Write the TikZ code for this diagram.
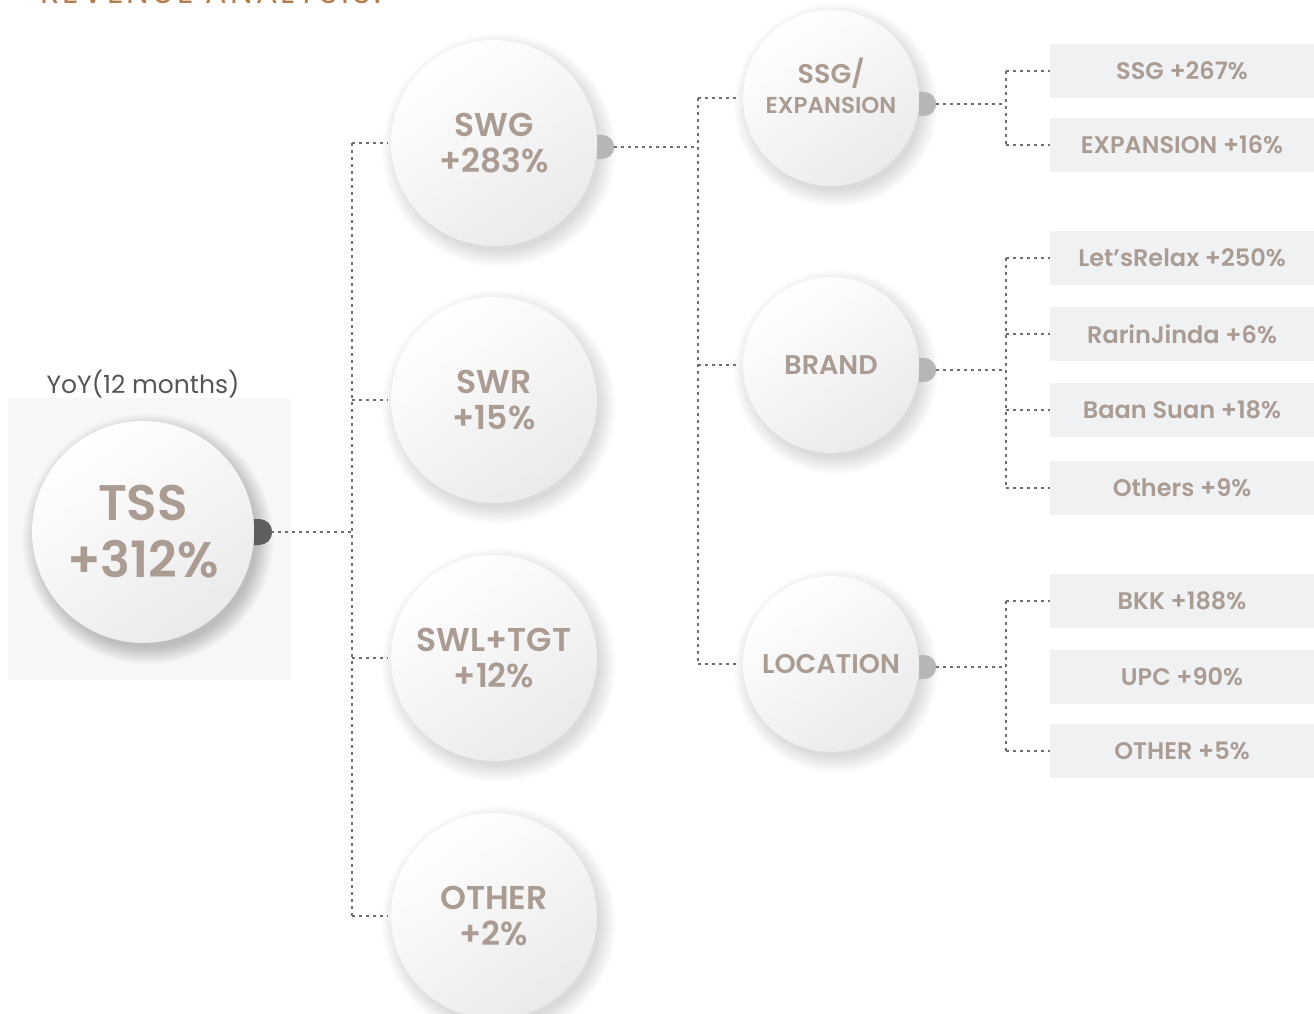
\documentclass[tikz,border=0pt]{standalone}
\usepackage{fontspec}
\setmainfont{Poppins}[BoldFont={Poppins SemiBold}]
\usetikzlibrary{backgrounds}
\definecolor{taupe}{HTML}{AA9C93}
\definecolor{boxgray}{HTML}{F0F1F3}
\definecolor{dotgray}{HTML}{6E6E72}
\definecolor{knobdark}{HTML}{5E5E60}
\definecolor{knoblight}{HTML}{B6B6B9}
\definecolor{titleorange}{HTML}{B27C4C}
\definecolor{yoygray}{HTML}{555555}
\definecolor{discgray}{HTML}{EAEAEC}
\definecolor{tssbg}{HTML}{F7F7F7}
\tikzset{
  disc/.style={circle, inner sep=0pt, text=taupe, align=center,
    top color=white, bottom color=discgray, shading angle=35},
  bigdisc/.style={disc, minimum size=222pt, font=\bfseries\fontsize{50}{57}\selectfont},
  middisc/.style={disc, minimum size=206pt, font=\bfseries\fontsize{33}{36}\selectfont},
  smalldisc/.style={disc, minimum size=176pt, font=\bfseries\fontsize{27}{30}\selectfont},
  valbox/.style={rectangle, fill=boxgray, minimum width=264pt, minimum height=54pt,
    inner sep=0pt, text=taupe, font=\bfseries\fontsize{24}{28}\selectfont},
  dotline/.style={draw=dotgray, line width=2pt, line cap=butt, dash pattern=on 3pt off 4pt}
}
% knob: node, yshift, colour, name of its tip, radius
\newcommand\knob[5]{%
  \fill[#3] ([yshift=#2]#1.east) ++(0,-#5) -- ++(5,0) arc[start angle=-90, end angle=90, radius=#5] -- ++(-5,0) -- cycle;
  \coordinate (#4) at ([xshift=17pt, yshift=#2]#1.east)}
\begin{document}
\begin{tikzpicture}[x=1pt, y=-1pt, line join=round]
  \useasboundingbox (0,0) rectangle (1314,1014);
  % title, cut by the page edge
  \node[anchor=base west, text=titleorange, inner sep=0pt,
    font=\fontsize{32}{32}\selectfont\addfontfeature{LetterSpace=10}] (title) at (40,4) {REVENUE ANALYSIS:};

  % circles
  \node[text=yoygray, font=\fontsize{25}{30}\selectfont] (yoy) at (143,384) {YoY(12 months)};
  \node[bigdisc] (tss) at (143,532) {TSS\\+312\%};
  \node[middisc] (swg) at (494,143) {SWG\\+283\%};
  \node[middisc] (swr) at (494,400) {SWR\\+15\%};
  \node[middisc] (swltgt) at (494,658) {SWL+TGT\\+12\%};
  \node[middisc] (oth) at (494,916) {OTHER\\+2\%};
  \node[smalldisc, text depth=24pt] (ssg) at (831,98) {SSG/\\{\fontsize{23}{28}\selectfont EXPANSION}};
  \node[smalldisc] (brand) at (831,365) {BRAND};
  \node[smalldisc] (loc) at (831,664) {LOCATION};

  % value boxes
  \node[valbox] (b1) at (1182,71) {SSG +267\%};
  \node[valbox] (b2) at (1182,145) {EXPANSION +16\%};
  \node[valbox] (b3) at (1182,258) {Let’sRelax +250\%};
  \node[valbox] (b4) at (1182,334) {RarinJinda +6\%};
  \node[valbox] (b5) at (1182,410) {Baan Suan +18\%};
  \node[valbox] (b6) at (1182,488) {Others +9\%};
  \node[valbox] (b7) at (1182,601) {BKK +188\%};
  \node[valbox] (b8) at (1182,677) {UPC +90\%};
  \node[valbox] (b9) at (1182,751) {OTHER +5\%};

  % soft shadows
  \begin{scope}[on background layer]
    \fill[tssbg] (8,398) rectangle (290,680);
    \foreach \n/\r/\o in {tss/111/0.02, swg/103/0.011, swr/103/0.011, swltgt/103/0.011,
        oth/103/0.011, ssg/88/0.011, brand/88/0.011, loc/88/0.011}
      \foreach \k in {1,...,12}
        \fill[black, opacity=\o] ([xshift=5pt, yshift=-7pt]\n.center) circle ({\r-4+\k*1.5});
  \end{scope}

  % knobs
  \knob{tss}{0pt}{knobdark}{tssk}{13};
  \knob{swg}{-4pt}{knoblight}{swgk}{12};
  \knob{ssg}{-6pt}{knoblight}{ssgk}{12};
  \knob{brand}{-5pt}{knoblight}{brandk}{12};
  \knob{loc}{-3pt}{knoblight}{lock}{12};

  % connectors
  \coordinate (j1) at (352,532);
  \coordinate (j2) at (698,147);
  \coordinate (j3) at (1006,0);
  \draw[dotline] (tssk) -- (j1);
  \draw[dotline] (j1 |- swg.west) -- (j1 |- oth.west);
  \foreach \n in {swg,swr,swltgt,oth}
    \draw[dotline, shorten >=3pt] (j1 |- \n.west) -- (\n.west);
  \draw[dotline] (swgk) -- (swgk -| j2);
  \draw[dotline] (j2 |- ssg.west) -- (j2 |- loc.west);
  \foreach \n in {ssg,brand,loc}
    \draw[dotline, shorten >=5pt] (j2 |- \n.west) -- (\n.west);
  \foreach \k in {ssgk,brandk,lock}
    \draw[dotline] (\k) -- (\k -| j3);
  \draw[dotline] (j3 |- b1.west) -- (j3 |- b2.west);
  \draw[dotline] (j3 |- b3.west) -- (j3 |- b6.west);
  \draw[dotline] (j3 |- b7.west) -- (j3 |- b9.west);
  \foreach \n in {b1,b2,b3,b4,b5,b6,b7,b9}
    \draw[dotline] (j3 |- \n.west) -- (\n.west);
\end{tikzpicture}
\end{document}
